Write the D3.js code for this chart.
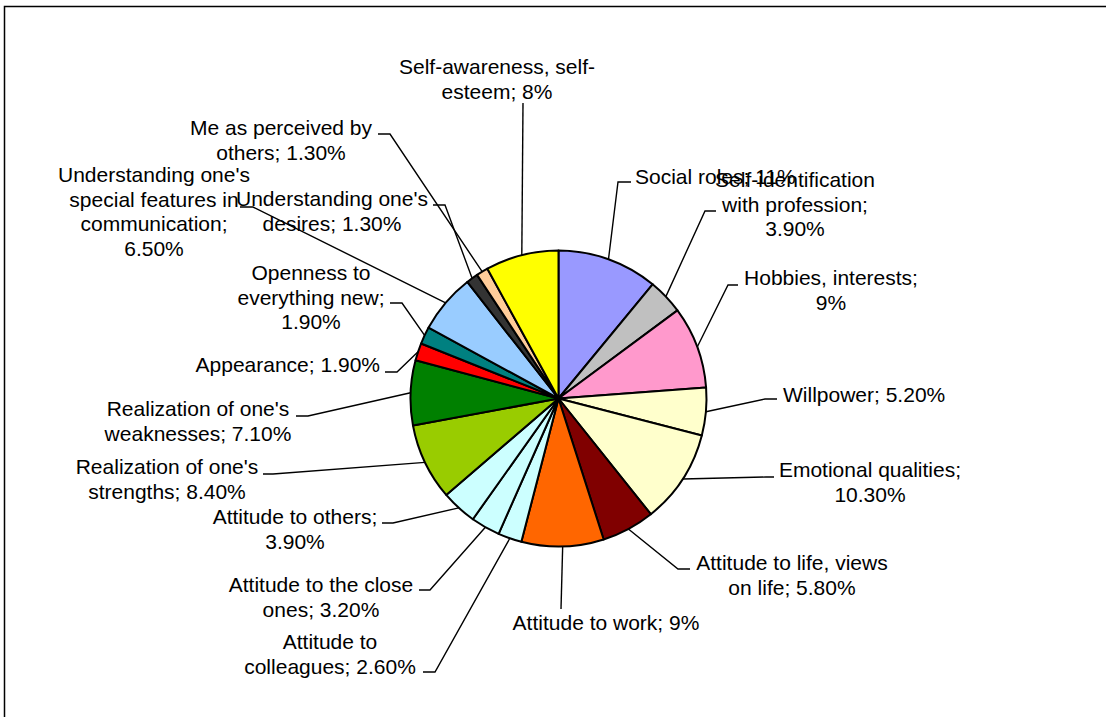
<!DOCTYPE html>
<html>
<head>
<meta charset="utf-8">
<script src="https://cdn.jsdelivr.net/npm/d3@7"></script>
<style>
  html, body { margin: 0; padding: 0; background: #fff; }
  svg { display: block; }
  text { font-family: Arial, "Liberation Sans", sans-serif; font-size: 21px; fill: #000; }
</style>
</head>
<body>
<svg id="chart" width="1106" height="717"></svg>
<script>
// Components of self-concept, share of mentions (%)
const categories = [
  "Social roles", "Self-identification with profession", "Hobbies, interests",
  "Willpower", "Emotional qualities", "Attitude to life, views on life",
  "Attitude to work", "Attitude to colleagues", "Attitude to the close ones",
  "Attitude to others", "Realization of one's strengths", "Realization of one's weaknesses",
  "Appearance", "Openness to everything new",
  "Understanding one's special features in communication",
  "Understanding one's desires", "Me as perceived by others", "Self-awareness, self-esteem"
];
const values = [11, 3.9, 9, 5.2, 10.3, 5.8, 9, 2.6, 3.2, 3.9, 8.4, 7.1, 1.9, 1.9, 6.5, 1.3, 1.3, 8];

// Wrapped label lines; {v} is replaced by the formatted value
const labelLines = [
  ["Social roles; {v}"],
  ["Self-identification", "with profession;", "{v}"],
  ["Hobbies, interests;", "{v}"],
  ["Willpower; {v}"],
  ["Emotional qualities;", "{v}"],
  ["Attitude to life, views", "on life; {v}"],
  ["Attitude to work; {v}"],
  ["Attitude to", "colleagues; {v}"],
  ["Attitude to the close", "ones; {v}"],
  ["Attitude to others;", "{v}"],
  ["Realization of one's", "strengths; {v}"],
  ["Realization of one's", "weaknesses; {v}"],
  ["Appearance; {v}"],
  ["Openness to", "everything new;", "{v}"],
  ["Understanding one's", "special features in", "communication;", "{v}"],
  ["Understanding one's", "desires; {v}"],
  ["Me as perceived by", "others; {v}"],
  ["Self-awareness, self-", "esteem; {v}"]
];

// Slice fills
const colors = [
  "#9999FF", "#C0C0C0", "#FF99CC", "#FFFFCC", "#FFFFCC", "#800000",
  "#FF6600", "#CCFFFF", "#CCFFFF", "#CCFFFF", "#99CC00", "#008000",
  "#FF0000", "#008080", "#99CCFF", "#333333", "#FFCC99", "#FFFF00"
];

// Label placement: text anchor point (x, first line y), leader elbow (ex, ey), horizontal end hx
const labelLayout = [
  { x: 635, y: 177, a: "start",  ex: 618, ey: 182, hx: 631 },
  { x: 795, y: 180, a: "middle", ex: 705, ey: 211, hx: 716 },
  { x: 831, y: 278, a: "middle", ex: 728, ey: 285, hx: 738 },
  { x: 783, y: 395, a: "start",  ex: 765, ey: 399, hx: 777 },
  { x: 870, y: 470, a: "middle", ex: 766, ey: 477, hx: 774 },
  { x: 792, y: 563, a: "middle", ex: 678, ey: 569, hx: 690 },
  { x: 606, y: 623, a: "middle", ex: 561, ey: 609, hx: 561 },
  { x: 330, y: 642, a: "middle", ex: 435, ey: 672, hx: 423 },
  { x: 321, y: 585, a: "middle", ex: 430, ey: 590, hx: 419 },
  { x: 295, y: 517, a: "middle", ex: 393, ey: 523, hx: 382 },
  { x: 167, y: 467, a: "middle", ex: 273, ey: 474, hx: 263 },
  { x: 198, y: 409, a: "middle", ex: 308, ey: 416, hx: 296 },
  { x: 380, y: 365, a: "end",    ex: 397, ey: 372, hx: 385 },
  { x: 311, y: 273, a: "middle", ex: 402, ey: 303, hx: 390 },
  { x: 154, y: 175, a: "middle", ex: 253, ey: 207, hx: 240 },
  { x: 332, y: 199, a: "middle", ex: 445, ey: 205, hx: 433 },
  { x: 281, y: 128, a: "middle", ex: 390, ey: 134, hx: 378 },
  { x: 497, y: 67,  a: "middle", ex: 523, ey: 103, hx: 523 }
];

const fmt = v => Number.isInteger(v) ? v + "%" : v.toFixed(2) + "%";

const svg = d3.select("#chart");
const cx = 558.5, cy = 398.5, r = 148;
const lineGap = 24.5;

// Outer frame (only top and left edges fall inside the view)
svg.append("path")
  .attr("d", "M4.5,717 V6.5 H1106")
  .attr("fill", "none")
  .attr("stroke", "#000")
  .attr("stroke-width", 1.5);

const data = categories.map((c, i) => ({ name: c, value: values[i], i }));

const pie = d3.pie().sort(null).value(d => d.value).startAngle(0).endAngle(2 * Math.PI);
const arcs = pie(data);

const arc = d3.arc().innerRadius(0).outerRadius(r);
const edge = d3.arc().innerRadius(r).outerRadius(r);

const g = svg.append("g").attr("transform", `translate(${cx},${cy})`);

g.selectAll("path.slice")
  .data(arcs)
  .join("path")
  .attr("class", "slice")
  .attr("d", arc)
  .attr("fill", d => colors[d.data.i])
  .attr("stroke", "#000")
  .attr("stroke-width", 2)
  .attr("stroke-linejoin", "round");

// Leader lines: slice edge -> elbow -> short horizontal toward the label
svg.append("g").selectAll("polyline")
  .data(arcs)
  .join("polyline")
  .attr("points", d => {
    const L = labelLayout[d.data.i];
    const [px, py] = edge.centroid(d);
    return `${cx + px},${cy + py} ${L.ex},${L.ey} ${L.hx},${L.ey}`;
  })
  .attr("fill", "none")
  .attr("stroke", "#000")
  .attr("stroke-width", 1.4);

// Labels
const labels = svg.append("g").selectAll("text")
  .data(arcs)
  .join("text")
  .attr("text-anchor", d => labelLayout[d.data.i].a)
  .attr("x", d => labelLayout[d.data.i].x)
  .attr("y", d => labelLayout[d.data.i].y);

labels.each(function(d) {
  const L = labelLayout[d.data.i];
  const t = d3.select(this);
  labelLines[d.data.i].forEach((ln, k) => {
    t.append("tspan")
      .attr("x", L.x)
      .attr("y", L.y + k * lineGap)
      .attr("dy", "0.35em")
      .text(ln.replace("{v}", fmt(d.data.value)));
  });
});
</script>
</body>
</html>
